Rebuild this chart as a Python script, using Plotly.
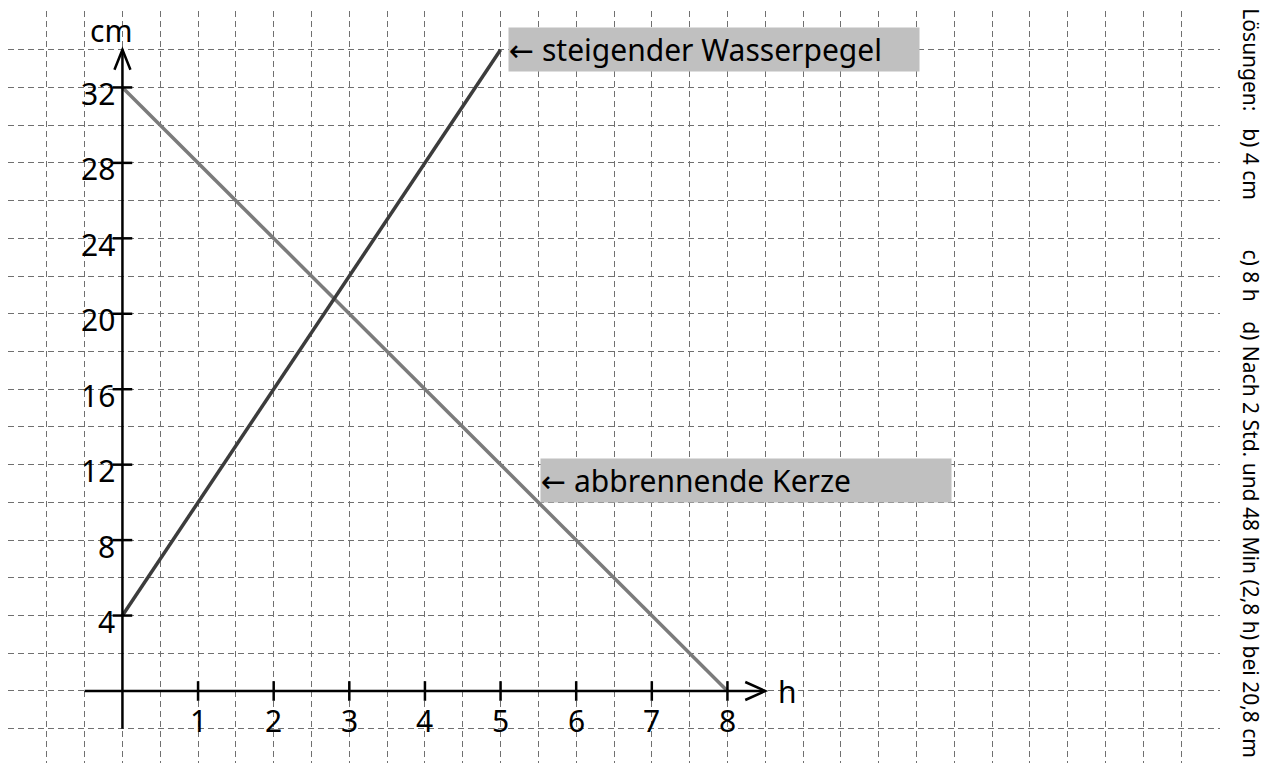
import plotly.graph_objects as go

# --- data -------------------------------------------------------------------
hours_wasser = [0, 5]
level_wasser = [4, 34]

hours_kerze = [0, 8]
level_kerze = [32, 0]

x_ticks = [1, 2, 3, 4, 5, 6, 7, 8]
y_ticks = [4, 8, 12, 16, 20, 24, 28, 32]

label_wasser = "\u2190 steigender Wasserpegel"
label_kerze = "\u2190 abbrennende Kerze"
unit_x = "h"
unit_y = "cm"

loesungen = [
    "L\u00f6sungen:",
    "b) 4 cm",
    "c) 8 h",
    "d) Nach 2 Std. und 48 Min (2,8 h) bei 20,8 cm",
]
loesungen_pos = [0.935, 0.797, 0.649, 0.297]

# --- style ------------------------------------------------------------------
FONT = "Noto Sans, Open Sans, DejaVu Sans, sans-serif"
GRID = "#707070"
DARK = "#3c3c3c"
GREY = "#7b7b7b"
BOX = "#c0c0c0"

fig = go.Figure()

fig.add_trace(go.Scatter(x=hours_kerze, y=level_kerze, mode="lines",
                         line=dict(color=GREY, width=3.5), hoverinfo="skip"))
fig.add_trace(go.Scatter(x=hours_wasser, y=level_wasser, mode="lines",
                         line=dict(color=DARK, width=3.5), hoverinfo="skip"))

# tick marks on the drawn axes
fig.add_trace(go.Scatter(x=x_ticks, y=[0] * len(x_ticks), mode="markers",
                         marker=dict(symbol="line-ns", size=14,
                                     line=dict(width=2.5, color="black")),
                         hoverinfo="skip"))
fig.add_trace(go.Scatter(x=[0] * len(y_ticks), y=y_ticks, mode="markers",
                         marker=dict(symbol="line-ew", size=14,
                                     line=dict(width=2.5, color="black")),
                         hoverinfo="skip"))

# axes with open arrow heads
axis_line = dict(color="black", width=2.5)
fig.add_shape(type="line", x0=-0.5, y0=0, x1=8.5, y1=0, line=axis_line)
fig.add_shape(type="line", x0=0, y0=-2, x1=0, y1=34, line=axis_line)
fig.add_shape(type="path", xsizemode="pixel", ysizemode="pixel",
              xanchor=8.5, yanchor=0, path="M -20 9 L 0 0 L -20 -9",
              line=axis_line)
fig.add_shape(type="path", xsizemode="pixel", ysizemode="pixel",
              xanchor=0, yanchor=34, path="M -8 -20 L 0 0 L 8 -20",
              line=axis_line)

tick_font = dict(family=FONT, size=30, color="black")
for t in x_ticks:
    fig.add_annotation(x=t, y=0, text=str(t), showarrow=False,
                       xanchor="center", yanchor="top", yshift=-7,
                       font=tick_font)
for t in y_ticks:
    fig.add_annotation(x=0, y=t, text=str(t), showarrow=False,
                       xanchor="right", yanchor="middle", xshift=-5, yshift=-6,
                       font=tick_font)

fig.add_annotation(x=0, y=34, text=unit_y, showarrow=False, xanchor="center",
                   yanchor="middle", xshift=-11, yshift=19, font=tick_font)
fig.add_annotation(x=8.5, y=0, text=unit_x, showarrow=False, xanchor="center",
                   yanchor="middle", xshift=22, yshift=-1, font=tick_font)

# grey label boxes
for text, x, y in [(label_wasser, 5.104, 34.03), (label_kerze, 5.527, 11.16)]:
    fig.add_annotation(x=x, y=y, text=text, showarrow=False, xanchor="left",
                       yanchor="middle", align="left", width=410, height=43,
                       borderpad=0, bgcolor=BOX,
                       font=dict(family=FONT, size=30, color="black"))

# rotated solutions on the right margin
for text, py in zip(loesungen, loesungen_pos):
    fig.add_annotation(xref="paper", yref="paper", x=1.026, y=py, text=text,
                       showarrow=False, textangle=90, xanchor="center",
                       yanchor="middle",
                       font=dict(family=FONT, size=21, color="black"))

# page body adds an 8px margin, so the figure is 8px smaller than the window
fig.update_xaxes(range=[-1.5132, 14.5132], dtick=0.5, tick0=0,
                 showgrid=True, gridcolor=GRID, gridwidth=1.3,
                 griddash="6px,4px", zeroline=False, showline=False,
                 showticklabels=False, ticks="")
fig.update_yaxes(range=[-3.818, 36.053], dtick=2, tick0=0,
                 showgrid=True, gridcolor=GRID, gridwidth=1.3,
                 griddash="6px,4px", zeroline=False, showline=False,
                 showticklabels=False, ticks="")

fig.update_layout(width=1263, height=755, showlegend=False,
                  margin=dict(l=0, r=51, t=3, b=0),
                  paper_bgcolor="white", plot_bgcolor="white",
                  hovermode=False)

fig.write_html("out.html")
